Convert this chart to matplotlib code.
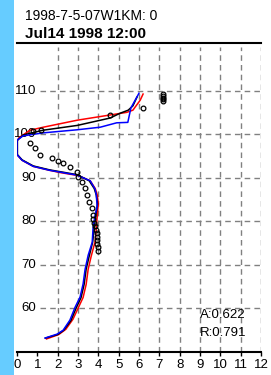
import matplotlib
matplotlib.use('Agg')
import matplotlib.pyplot as plt
from matplotlib.patches import Rectangle

plt.rcParams['font.family'] = ['Liberation Sans', 'DejaVu Sans']

title_top = '1998-7-5-07W1KM: 0'
title_bold = 'Jul14 1998 12:00'
stats = ['A:0.622', 'R:0.791']

x_ticks = list(range(0, 13))
y_labels = [60, 70, 80, 90, 100, 110]

# blue curve
blue_x = [1.38, 1.97, 2.27, 2.6, 2.86, 3.1, 3.25, 3.35, 3.5, 3.7, 3.74, 3.84, 3.94, 3.9, 3.84, 3.6,
          2.95, 2.1, 1.6, 0.8, 0.25, 0.0, 0.0, 0.3, 1.3, 2.96, 4.1, 4.9, 5.45, 5.6, 6.0]
blue_y = [53.2, 54.1, 55.0, 57.3, 60.3, 62.6, 65.6, 69.0, 72.2, 75.2, 78.4, 81.4, 83.5, 86.0, 87.4, 89.3,
          90.6, 91.3, 91.7, 92.6, 94.0, 95.3, 98.6, 99.6, 100.3, 101.0, 101.6, 102.6, 102.7, 106.0, 109.4]

# red curve
red_x = [1.45, 2.05, 2.4, 2.75, 3.0, 3.25, 3.4, 3.5, 3.65, 3.85, 3.9, 3.95, 4.0, 3.95, 3.85, 3.6,
         3.0, 2.1, 1.6, 0.8, 0.25, 0.0, 0.0, 0.1, 0.64, 1.3, 2.96, 4.58, 5.4, 5.7, 6.06, 6.2]
red_y = [53.0, 54.0, 55.2, 57.5, 60.0, 62.5, 65.5, 69.0, 72.0, 75.5, 78.5, 81.5, 84.0, 86.0, 87.5, 89.3,
         90.5, 91.2, 91.7, 92.6, 94.0, 95.3, 98.4, 99.2, 100.9, 101.6, 103.2, 104.4, 105.0, 105.5, 107.8, 109.2]

# black curve
black_x = [1.4, 2.0, 2.3, 2.65, 2.9, 3.15, 3.3, 3.4, 3.55, 3.72, 3.8, 3.88, 3.96, 3.9, 3.8, 3.55,
           2.95, 2.1, 1.6, 0.8, 0.25, 0.02, 0.02, 0.3, 1.28, 2.96, 4.58, 5.07, 5.47, 5.7, 5.9]
black_y = [53.2, 54.0, 55.0, 57.2, 60.0, 62.5, 65.5, 69.0, 72.0, 75.2, 78.5, 81.4, 84.0, 86.0, 87.5, 89.3,
           90.7, 91.4, 91.8, 92.7, 94.1, 95.3, 98.6, 99.8, 100.9, 102.0, 103.7, 104.8, 105.5, 106.5, 108.5]

# observations
obs_x = [0.8, 1.2, 0.64, 0.9, 1.13, 1.72, 2.0, 2.27, 2.6, 2.96, 3.0, 3.2, 3.35, 3.45, 3.55, 3.7, 3.74,
         3.74, 3.8, 3.84, 3.9, 3.92, 3.94, 3.94, 3.94, 3.96, 3.99, 4.58, 6.2,
         7.2, 7.2, 7.2, 7.2, 7.2]
obs_y = [100.8, 100.9, 97.9, 96.8, 95.2, 94.5, 93.9, 93.3, 92.4, 91.3, 90.1, 89.0, 87.6, 86.0, 84.4, 83.0, 81.4,
         80.5, 79.7, 78.9, 78.1, 77.3, 76.5, 75.6, 74.8, 74.0, 73.2, 104.4, 106.0,
         107.6, 108.0, 108.4, 108.8, 109.1]

fig = plt.figure(figsize=(2.71, 3.75), dpi=100)
fig.patch.set_facecolor('white')
fig.patches.append(Rectangle((0, 0), 14 / 271, 1, transform=fig.transFigure,
                             facecolor='#66CCFF', edgecolor='none', zorder=0))

ax = fig.add_axes([17 / 271, 23 / 375, 244 / 271, 305 / 375])
ax.set_xlim(0, 12)
ax.set_ylim(50, 120)

grid_style = dict(color='#808080', linestyle=(0, (4, 3)), linewidth=1.0, zorder=1)
for xv in x_ticks[2:]:
    ax.plot([xv, xv], [50, 120], **grid_style)
for yv in y_labels:
    ax.plot([1.13, 12], [yv, yv], **grid_style)
    ax.text(0.95, yv, str(yv), ha='right', va='center', fontsize=9.5, zorder=2)

ax.plot(red_x, red_y, color='#FF0000', lw=1.1, zorder=3)
ax.plot(black_x, black_y, color='black', lw=1.1, zorder=4)
ax.plot(blue_x, blue_y, color='#0000FF', lw=1.1, zorder=5)
ax.plot(obs_x, obs_y, linestyle='none', marker='o', markersize=3.4, markerfacecolor='none',
        markeredgecolor='black', markeredgewidth=0.9, zorder=6)

ax.text(9.0, 58.5, stats[0], ha='left', va='center', fontsize=9.5)
ax.text(9.0, 54.4, stats[1], ha='left', va='center', fontsize=9.5)

for s in ['left', 'right', 'top']:
    ax.spines[s].set_visible(False)
ax.spines['bottom'].set_linewidth(1.5)
ax.set_xticks(x_ticks)
ax.set_yticks([])
ax.tick_params(axis='x', direction='out', length=3, width=1, labelsize=9.5, pad=2)
ax.patch.set_alpha(0)

fig.text(25 / 271, 1 - 20 / 375, title_top, fontsize=10, va='baseline', ha='left')
fig.text(25 / 271, 1 - 38 / 375, title_bold, fontsize=11, fontweight='bold', va='baseline', ha='left')
fig.add_artist(plt.Line2D([17 / 271, 261 / 271], [1 - 43 / 375, 1 - 43 / 375], color='black', lw=1.5))

fig.savefig('out.png', dpi=100)
